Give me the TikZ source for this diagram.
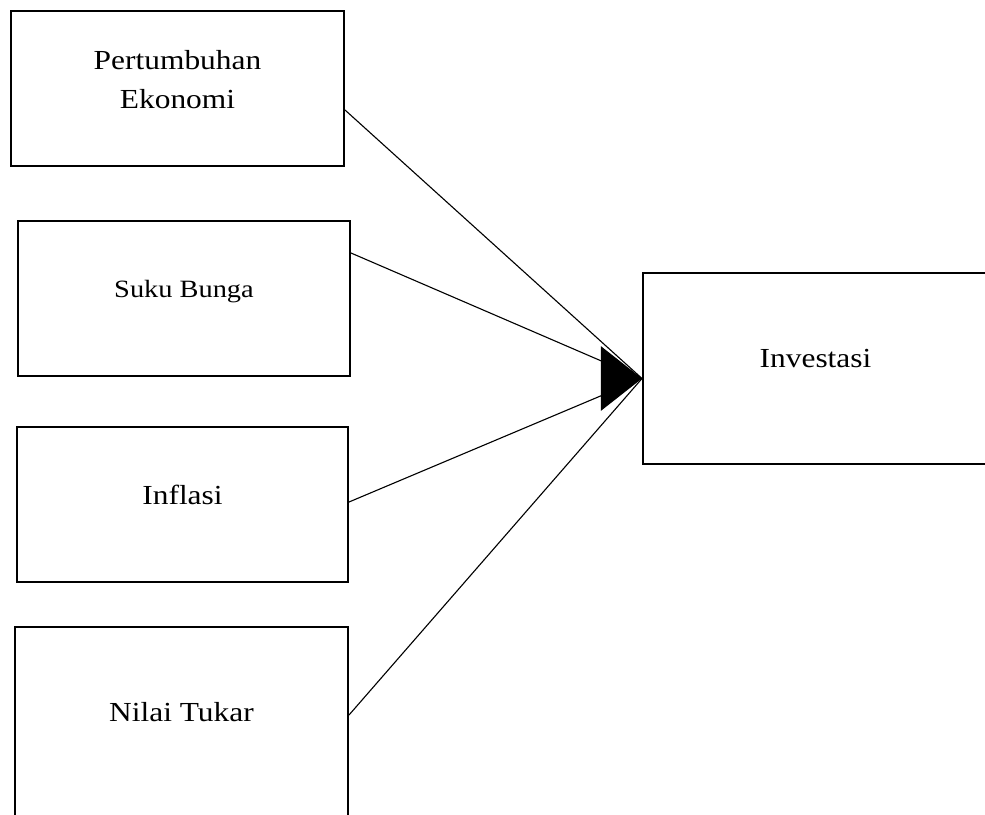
\documentclass[tikz,border=0pt]{standalone}
\usepackage{fontspec}
\setmainfont{Liberation Serif}[FakeStretch=1.14]
\usetikzlibrary{arrows.meta,calc}

\tikzset{
	varbox/.style={draw, line width=0.9pt, inner sep=0pt, anchor=north west,
		font=\fontsize{12.4}{17.5}\selectfont},
	link/.style={line width=0.5pt},
	bighead/.style={-{Triangle[length=18.5pt,width=29pt]}, line width=0.5pt}
}

\begin{document}
\begin{tikzpicture}[x=0.45pt, y=-0.45pt]
					% Page frame, everything below it is cut off
						\clip (0,0) rectangle (985,814);

					% The four independent variables
						\node [varbox, minimum width=149.85pt, text height=43.65pt, text depth=26.1pt] (growth) at (10,10)
							{\begin{tabular}[b]{@{}c@{}}Pertumbuhan\\Ekonomi\end{tabular}};
						\node [varbox, minimum width=149.4pt, text height=34.2pt, text depth=35.55pt,
							font=\fontsize{11.2}{13}\selectfont] (rate) at (17,220) {Suku Bunga};
						\node [varbox, minimum width=148.95pt, text height=34.65pt, text depth=35.1pt] (inflation) at (16,426) {Inflasi};
						\node [varbox, minimum width=149.85pt, text height=42.3pt, text depth=47.7pt] (exchange) at (14,626) {Nilai Tukar};

					% The dependent variable
						\node [varbox, minimum width=155.25pt, text height=42.3pt, text depth=43.65pt] (invest) at (642,272) {Investasi};
						\coordinate (tip) at ($(invest.west)+(0,10)$);

					% Lines from each variable into the common arrow head
						\foreach \src/\off in {growth/100, rate/33, inflation/76, exchange/89} {
							\draw [link] ($(\src.north east)+(0,\off)$) -- (tip);
							}
						\draw [bighead] ($(tip)+(-41,0)$) -- (tip);

					\end{tikzpicture}
\end{document}
